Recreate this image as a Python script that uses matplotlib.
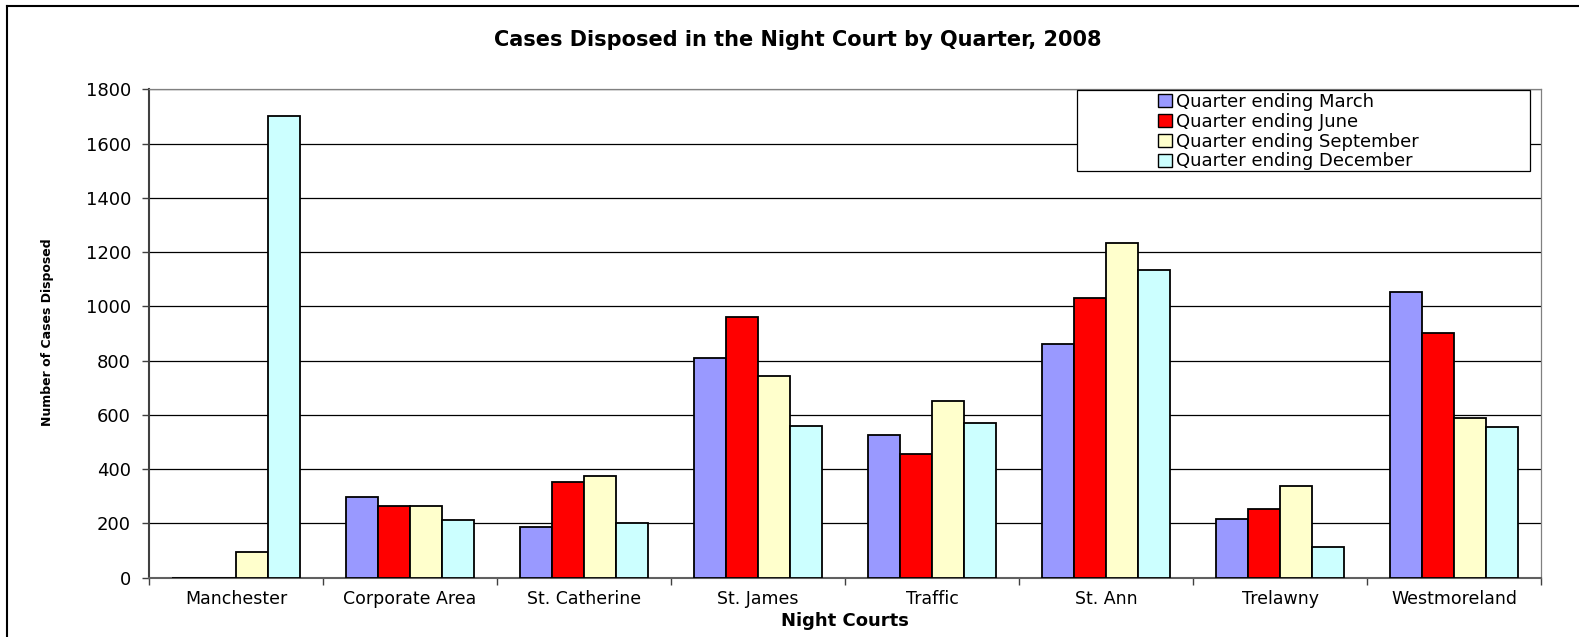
import numpy as np
import matplotlib
matplotlib.use('Agg')
import matplotlib.pyplot as plt
from matplotlib.patches import Patch, Rectangle
from matplotlib.lines import Line2D

## data
courts = ['Manchester', 'Corporate Area', 'St. Catherine', 'St. James',
          'Traffic', 'St. Ann', 'Trelawny', 'Westmoreland']
march = [0, 298, 188, 810, 525, 861, 216, 1054]
june = [0, 264, 352, 960, 455, 1031, 254, 901]
september = [95, 264, 376, 742, 650, 1234, 337, 590]
december = [1700, 214, 203, 558, 570, 1134, 113, 557]
series_names = ['Quarter ending March', 'Quarter ending June',
                'Quarter ending September', 'Quarter ending December']
yticks = [0, 200, 400, 600, 800, 1000, 1200, 1400, 1600, 1800]

colors = ['#9999FF', '#FF0000', '#FFFFCC', '#CCFFFF']

plt.rcParams['font.family'] = ['DejaVu Sans']

W, H = 1579, 637
fig = plt.figure(figsize=(W/100, H/100), dpi=100)
ax = fig.add_axes([149/W, 1-577.7/H, (1541-149)/W, (577.7-89.3)/H])

x = np.arange(len(courts))
bw = 0.184
for k, vals in enumerate([march, june, september, december]):
    ax.bar(x + (k-1.5)*bw, vals, width=bw, color=colors[k], edgecolor='black',
           linewidth=1.3, zorder=3)

ax.set_xlim(-0.5, len(courts)-0.5)
ax.set_ylim(0, 1800)
ax.set_yticks(yticks)
ax.yaxis.grid(True, color='black', lw=0.9, zorder=0)
ax.set_axisbelow(True)

ax.set_xticks(x)
ax.set_xticklabels(courts, fontsize=12.5)
ax.set_xticks(np.arange(len(courts)+1)-0.5, minor=True)
ax.tick_params(axis='x', which='major', length=0, pad=9)
ax.tick_params(axis='x', which='minor', length=5, width=1, color='#404040')
ax.tick_params(axis='y', length=5, width=1, pad=8, labelsize=13, color='#404040')

ax.spines['left'].set_color('#404040')
ax.spines['left'].set_linewidth(1.5)
ax.spines['bottom'].set_color('#606060')
ax.spines['bottom'].set_linewidth(1.5)
ax.spines['right'].set_color('#808080')
ax.spines['right'].set_linewidth(0.9)
ax.spines['top'].set_color('#808080')
ax.spines['top'].set_linewidth(0.9)

fig.text(798/W, 1-40/H, 'Cases Disposed in the Night Court by Quarter, 2008',
         ha='center', va='center', fontsize=15, fontweight='bold')
fig.text(48/W, 1-332/H, 'Number of Cases Disposed', rotation=90,
         ha='center', va='center', fontsize=9, fontweight='bold')
fig.text(845/W, 1-621/H, 'Night Courts', ha='center', va='center',
         fontsize=13, fontweight='bold')

# legend box
fig.add_artist(Rectangle((1077/W, 1-171/H), 453/W, 81/H, transform=fig.transFigure,
                         facecolor='white', edgecolor='black', lw=0.9, zorder=2))
handles = [Patch(facecolor=c, edgecolor='black', lw=1) for c in colors]
fig.legend(handles, series_names, loc='upper left',
           bbox_to_anchor=(1158/W, 1-93/H), frameon=False, fontsize=13,
           borderpad=0, borderaxespad=0, labelspacing=0.1,
           handlelength=0.75, handleheight=0.75, handletextpad=0.25)

# outer chart frame
fig.add_artist(Line2D([7/W, 7/W], [0, 1-6/H], transform=fig.transFigure, color='black', lw=1.5))
fig.add_artist(Line2D([7/W, 1], [1-6/H, 1-6/H], transform=fig.transFigure, color='black', lw=1.5))

fig.savefig('out.png', dpi=100)
